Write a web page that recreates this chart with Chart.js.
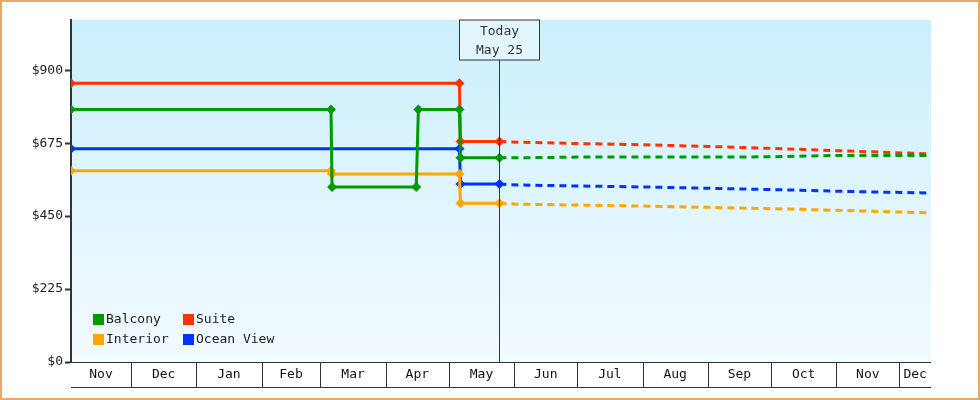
<!DOCTYPE html>
<html>
<head>
<meta charset="utf-8">
<script src="https://cdn.jsdelivr.net/npm/chart.js@4"></script>
<style>
  body { margin: 0; background: #fff; }
  #wrap { width: 980px; height: 400px; }
</style>
</head>
<body>
<div id="wrap"><canvas id="chart" width="980" height="400"></canvas></div>
<script>
// days counted from Nov 1 of the first year
var monthLabels = ['Nov', 'Dec', 'Jan', 'Feb', 'Mar', 'Apr', 'May', 'Jun', 'Jul', 'Aug', 'Sep', 'Oct', 'Nov', 'Dec'];
var monthStarts = [0, 30, 61, 92, 120, 151, 181, 212, 242, 273, 304, 334, 365, 395, 426];
var todayDay = 205;

var balconyDays = [1.5, 125, 125.5, 165.5, 166.5, 186, 186.5, 205];
var balconyPrices = [779, 779, 540, 540, 779, 779, 630, 630];
var suiteDays = [1.5, 186, 186.5, 205];
var suitePrices = [860, 860, 680, 680];
var interiorDays = [1.5, 125, 125.5, 186, 186.5, 205];
var interiorPrices = [590, 590, 580, 580, 490, 490];
var oceanDays = [1.5, 186, 186.5, 205];
var oceanPrices = [658, 658, 549, 549];

var forecastDays = [205, 214, 242, 273, 304, 334, 365, 410];
var balconyForecast = [630, 630, 632, 632, 632, 633, 637, 637];
var suiteForecast = [680, 678, 674, 670, 665, 659, 652, 642];
var interiorForecast = [490, 487, 484, 481, 477, 473, 468, 460];
var oceanForecast = [549, 546, 543, 540, 536, 532, 527, 521];

var yTicks = [0, 225, 450, 675, 900];

var font = "'DejaVu Sans Mono', monospace";

function pts(xs, ys) {
    return xs.map(function (x, i) { return { x: x, y: ys[i] }; });
}

function solid(label, color, xs, ys) {
    return {
        label: label, data: pts(xs, ys), borderColor: color, backgroundColor: color,
        borderWidth: 3, pointRadius: 5, pointStyle: 'rectRot', pointBorderWidth: 0, tension: 0
    };
}

function dashed(color, xs, ys) {
    return {
        label: '', data: pts(xs, ys), borderColor: color, borderWidth: 3,
        borderDash: [7, 5], pointRadius: 0, tension: 0, forecast: true
    };
}

var backdrop = {
    id: 'backdrop',
    beforeDraw: function (chart) {
        var ctx = chart.ctx, a = chart.chartArea;
        var g = ctx.createLinearGradient(0, a.top, 0, a.bottom);
        g.addColorStop(0, '#cbeffc');
        g.addColorStop(1, '#f2fbff');
        ctx.save();
        ctx.fillStyle = g;
        ctx.fillRect(a.left, a.top, a.right - a.left, a.bottom - a.top);
        ctx.restore();
    },
    afterDraw: function (chart) {
        var ctx = chart.ctx, a = chart.chartArea, x = chart.scales.x;
        ctx.save();
        // outer frame
        ctx.strokeStyle = '#e8a866';
        ctx.lineWidth = 2;
        ctx.strokeRect(1, 1, 978, 398);
        // month row
        ctx.strokeStyle = '#333';
        ctx.lineWidth = 1;
        ctx.beginPath();
        ctx.moveTo(a.left, a.bottom + 0.5); ctx.lineTo(a.right, a.bottom + 0.5);
        ctx.moveTo(a.left, a.bottom + 25.5); ctx.lineTo(a.right, a.bottom + 25.5);
        ctx.stroke();
        ctx.font = '13px ' + font;
        ctx.fillStyle = '#111';
        ctx.textAlign = 'center';
        ctx.textBaseline = 'middle';
        for (var i = 0; i < monthLabels.length; i++) {
            var l = Math.max(x.getPixelForValue(monthStarts[i]), a.left);
            var r = Math.min(x.getPixelForValue(monthStarts[i + 1]), a.right);
            if (i > 0) {
                ctx.beginPath();
                ctx.moveTo(Math.round(l) + 0.5, a.bottom);
                ctx.lineTo(Math.round(l) + 0.5, a.bottom + 25);
                ctx.stroke();
            }
            ctx.fillText(monthLabels[i], (l + r) / 2, a.bottom + 13);
        }
        // today marker
        var tx = Math.round(x.getPixelForValue(todayDay)) + 0.5;
        ctx.beginPath();
        ctx.moveTo(tx, a.top + 40); ctx.lineTo(tx, a.bottom);
        ctx.stroke();
        ctx.fillStyle = '#e2f6fd';
        ctx.fillRect(tx - 40, a.top, 80, 40);
        ctx.strokeRect(tx - 40, a.top, 80, 40);
        ctx.fillStyle = '#333';
        ctx.fillText('Today', tx, a.top + 12);
        ctx.fillText('May 25', tx, a.top + 31);
        // legend
        var items = chart.data.datasets.filter(function (d) { return !d.forecast; });
        var pos = [[93, 320], [183, 320], [93, 340], [183, 340]];
        ctx.textAlign = 'left';
        items.forEach(function (d, k) {
            var p = pos[k];
            ctx.fillStyle = d.borderColor;
            ctx.fillRect(p[0], p[1] - 6, 11, 11);
            ctx.fillStyle = '#222';
            ctx.fillText(d.label, p[0] + 13, p[1]);
        });
        ctx.restore();
    }
};

new Chart(document.getElementById('chart'), {
    type: 'line',
    data: {
        datasets: [
            solid('Balcony', '#009900', balconyDays, balconyPrices),
            solid('Suite', '#ff3300', suiteDays, suitePrices),
            solid('Interior', '#ffa500', interiorDays, interiorPrices),
            solid('Ocean View', '#0033ff', oceanDays, oceanPrices),
            dashed('#009900', forecastDays, balconyForecast),
            dashed('#ff3300', forecastDays, suiteForecast),
            dashed('#ffa500', forecastDays, interiorForecast),
            dashed('#0033ff', forecastDays, oceanForecast)
        ]
    },
    options: {
        responsive: false,
        animation: false,
        layout: { padding: { left: 0, top: 20, right: 49, bottom: 13 } },
        plugins: { legend: { display: false }, tooltip: { enabled: false } },
        scales: {
            x: {
                type: 'linear', min: 1.5, max: 410,
                grid: { display: false }, border: { display: false },
                ticks: { display: false },
                afterFit: function (s) { s.height = 25; }
            },
            y: {
                min: 0, max: 1055,
                afterBuildTicks: function (s) { s.ticks = yTicks.map(function (v) { return { value: v }; }); },
                afterFit: function (s) { s.width = 71; },
                grid: { drawOnChartArea: false, tickLength: 6, color: '#333', tickWidth: 2 },
                border: { color: '#333', width: 2 },
                ticks: {
                    color: '#222', font: { family: font, size: 13 }, padding: 2,
                    callback: function (v) { return '$' + v; }
                }
            }
        }
    },
    plugins: [backdrop]
});
</script>
</body>
</html>
